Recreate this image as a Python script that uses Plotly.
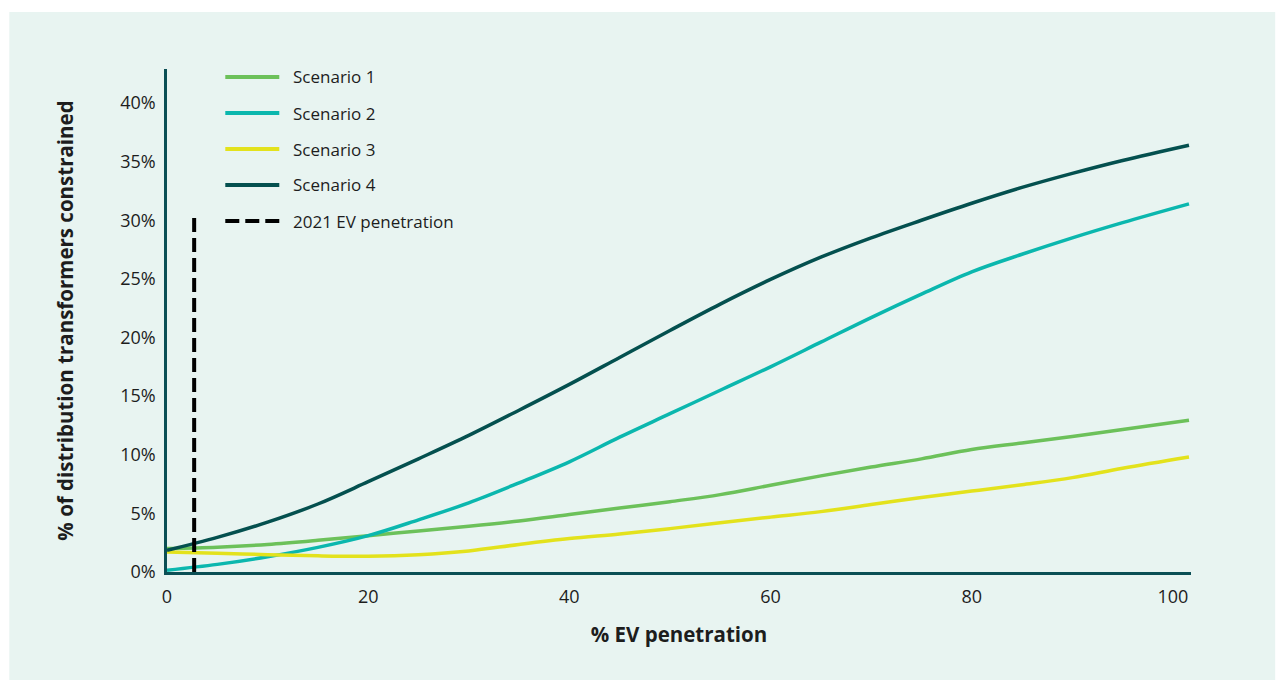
import plotly.graph_objects as go

# EV penetration (%) sample points
ev_penetration = [0, 5, 10, 15, 20, 25, 30, 35, 40, 45, 50, 55, 60, 65, 70, 75, 80, 85, 90, 95, 101.6]

# % of distribution transformers constrained, per scenario
scenario_1 = [2.0, 2.12, 2.35, 2.7, 3.1, 3.5, 3.9, 4.35, 4.9, 5.45, 6.0, 6.6, 7.4, 8.2, 8.95, 9.65, 10.45, 11.0, 11.55, 12.15, 12.94]
scenario_2 = [0.15, 0.65, 1.3, 2.1, 3.1, 4.45, 5.9, 7.6, 9.4, 11.5, 13.5, 15.5, 17.5, 19.6, 21.7, 23.7, 25.6, 27.1, 28.5, 29.8, 31.4]
scenario_3 = [1.7, 1.6, 1.48, 1.38, 1.35, 1.48, 1.8, 2.35, 2.85, 3.25, 3.7, 4.2, 4.68, 5.15, 5.75, 6.35, 6.9, 7.45, 8.05, 8.85, 9.81]
scenario_4 = [1.85, 2.95, 4.25, 5.8, 7.7, 9.65, 11.65, 13.8, 16.0, 18.3, 20.6, 22.85, 24.95, 26.85, 28.5, 30.0, 31.45, 32.8, 34.0, 35.1, 36.4]

# 2021 marker
ev_2021 = 2.7
ev_2021_top = 30.5

series_names = ["Scenario 1", "Scenario 2", "Scenario 3", "Scenario 4"]
marker_name = "2021 EV penetration"

x_ticks = [0, 20, 40, 60, 80, 100]
y_ticks = [0, 5, 10, 15, 20, 25, 30, 35, 40]
y_tick_labels = [f"{v}%" for v in y_ticks]

colors = ["#6cc15a", "#0bb7ae", "#e3e21c", "#04504f"]
axis_color = "#0b4f55"
panel_color = "#e8f4f1"
text_color = "#1d1d1d"
font_family = "'Open Sans', Lato, sans-serif"

fig = go.Figure()

for name, ys, col in zip(series_names, [scenario_1, scenario_2, scenario_3, scenario_4], colors):
    fig.add_trace(go.Scatter(
        x=ev_penetration, y=ys, name=name, mode="lines",
        line=dict(color=col, width=3.5, shape="spline", smoothing=1.0),
        showlegend=False,
    ))

fig.add_trace(go.Scatter(
    x=[ev_2021, ev_2021], y=[0, ev_2021_top], name=marker_name, mode="lines",
    line=dict(color="#000000", width=4, dash="14px,6px"),
    showlegend=False,
))

# plot-area geometry (pixels) used for paper-coordinate placement
L, R, T, B = 166.7, 1190.8, 69.0, 572.0
W, H = R - L, B - T


def px(x):
    return (x - L) / W


def py(y):
    return (B - y) / H


shapes = [
    # background panel
    dict(type="rect", xref="paper", yref="paper", layer="below",
         x0=px(9), x1=px(1275), y0=py(680), y1=py(12),
         fillcolor=panel_color, line=dict(width=0)),
]
annotations = []

# legend
legend_rows = [77, 113, 149, 185, 221]
legend_items = list(zip(series_names, colors, ["solid"] * 4)) + [(marker_name, "#000000", "dash")]
for (label, col, dash), yrow in zip(legend_items, legend_rows):
    shapes.append(dict(
        type="line", xref="paper", yref="paper",
        x0=px(225), x1=px(279), y0=py(yrow), y1=py(yrow),
        line=dict(color=col, width=4, dash="14px,6px" if dash == "dash" else "solid"),
    ))
    annotations.append(dict(
        xref="paper", yref="paper", x=px(291), y=py(yrow),
        xanchor="left", yanchor="middle", showarrow=False,
        text=label, font=dict(family=font_family, size=17, color=text_color),
    ))

fig.update_layout(
    width=1282, height=684,
    margin=dict(l=L, r=1282 - R, t=T, b=684 - B, pad=0),
    paper_bgcolor="#ffffff",
    plot_bgcolor="rgba(0,0,0,0)",
    font=dict(family=font_family, size=18, color=text_color),
    shapes=shapes,
    annotations=annotations,
    showlegend=False,
)

fig.update_xaxes(
    range=[0, 101.8], tickvals=x_ticks, ticktext=[str(v) for v in x_ticks],
    showgrid=False, zeroline=False, showline=True, linecolor=axis_color, linewidth=2.5,
    ticks="", ticklabelstandoff=7, tickfont=dict(size=18, color=text_color),
    title=dict(text="<b>% EV penetration</b>", font=dict(size=20.5, color=text_color), standoff=21),
)
fig.update_yaxes(
    range=[0, 42.9], tickvals=y_ticks, ticktext=y_tick_labels,
    showgrid=False, zeroline=False, showline=True, linecolor=axis_color, linewidth=2.5,
    ticks="", ticklabelstandoff=5, tickfont=dict(size=18, color=text_color),
    title=dict(text="<b>% of distribution transformers constrained</b>", font=dict(size=20.5, color=text_color), standoff=42),
)

fig.write_html("out.html")
